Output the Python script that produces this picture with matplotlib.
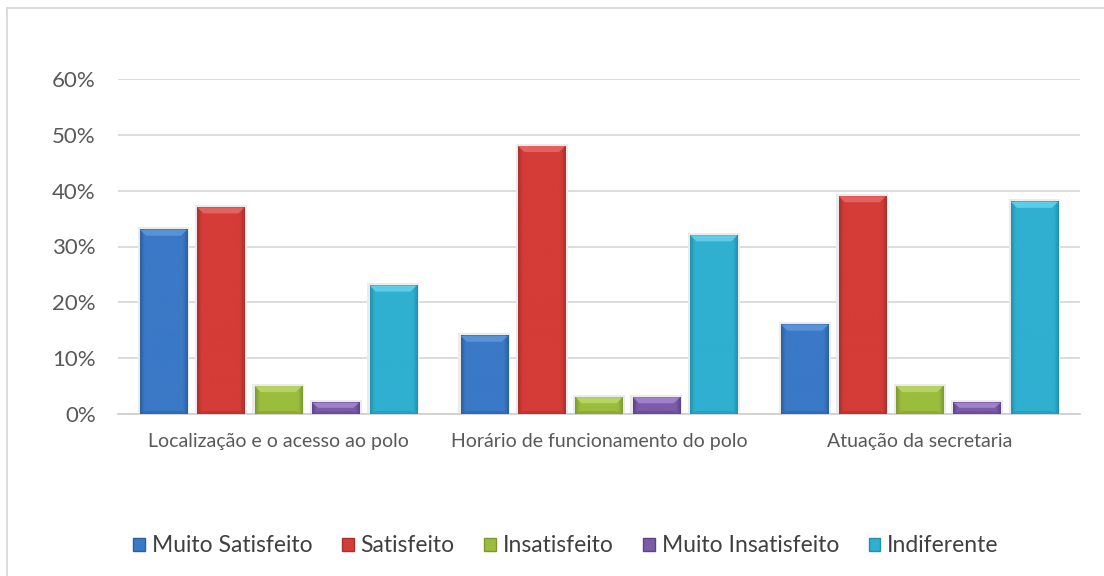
import numpy as np
import matplotlib
matplotlib.use("Agg")
import matplotlib.pyplot as plt
from matplotlib.colors import LinearSegmentedColormap
from matplotlib.patches import Polygon, Rectangle
from matplotlib.lines import Line2D

categories = ["Localização e o acesso ao polo",
              "Horário de funcionamento do polo",
              "Atuação da secretaria"]
series = ["Muito Satisfeito", "Satisfeito", "Insatisfeito",
          "Muito Insatisfeito", "Indiferente"]
muito_satisfeito = [0.33, 0.14, 0.16]
satisfeito = [0.37, 0.48, 0.39]
insatisfeito = [0.05, 0.03, 0.05]
muito_insatisfeito = [0.02, 0.03, 0.02]
indiferente = [0.23, 0.32, 0.38]
yticks = [0.0, 0.1, 0.2, 0.3, 0.4, 0.5, 0.6]

values = [muito_satisfeito, satisfeito, insatisfeito, muito_insatisfeito, indiferente]
# (dark edge, body, light highlight)
palette = [("#2d5f9e", "#3a79c6", "#5e98dc"),
           ("#a8302c", "#d43c38", "#e86864"),
           ("#7d9832", "#9bbd3d", "#bcd86c"),
           ("#5c4385", "#7c5ca8", "#a587d2"),
           ("#2290ac", "#30b0d0", "#66d2ec")]

plt.rcParams["font.family"] = ["Lato", "DejaVu Sans"]
fig = plt.figure(figsize=(11.04, 5.76), dpi=100)
ax = fig.add_axes([118 / 1104, 162 / 576, (1080 - 118) / 1104, (414 - 79) / 576])

n = len(series)
x = np.arange(len(categories))
step = 0.179
width = 0.147
ymax = 0.6
px_y = ymax / 335.0

for i, (vals, (dark, body, light)) in enumerate(zip(values, palette)):
    bars = ax.bar(x + (i - (n - 1) / 2) * step, vals, width, color=body,
                  edgecolor="none", zorder=3)
    cmap = LinearSegmentedColormap.from_list(
        "bev%d" % i, [(0.0, dark), (0.1, body), (0.35, body), (0.5, body),
                      (0.9, body), (1.0, dark)])
    for b in bars:
        x0, w, h = b.get_x(), b.get_width(), b.get_height()
        # soft shadow around the bar
        ax.add_patch(Rectangle((x0 - w * 0.05, 0), w * 1.10, h + 2.5 * px_y,
                               facecolor="#ebebeb", edgecolor="none", zorder=2))
        grad = np.linspace(0, 1, 200).reshape(1, -1)
        ax.imshow(grad, cmap=cmap, extent=(x0, x0 + w, 0, h), aspect="auto",
                  zorder=4, interpolation="bicubic")
        # bevelled top
        cap = min(6 * px_y, h * 0.45)
        inset = w * 0.13
        ax.add_patch(Polygon([(x0, h), (x0 + w, h), (x0 + w - inset, h - cap),
                              (x0 + inset, h - cap)], closed=True,
                             facecolor=light, edgecolor="none", alpha=0.85, zorder=5))
        # bevelled foot
        ax.add_patch(Polygon([(x0, 0), (x0 + w, 0), (x0 + w - inset, cap * 0.5),
                              (x0 + inset, cap * 0.5)], closed=True,
                             facecolor=dark, edgecolor="none", alpha=0.5, zorder=5))

ax.set_xlim(-0.5, len(categories) - 0.5)
ax.set_ylim(0, ymax)
ax.set_yticks(yticks)
ax.set_yticklabels(["%d%%" % round(t * 100) for t in yticks])
ax.set_xticks(x)
ax.set_xticklabels(categories)
ax.tick_params(axis="both", length=0, colors="#595959")
ax.tick_params(axis="y", pad=16, labelsize=16)
ax.tick_params(axis="x", pad=14, labelsize=14)
ax.yaxis.grid(True, color="#d9d9d9", linewidth=1.3, zorder=0)
ax.set_axisbelow(True)
for s in ["top", "right", "left"]:
    ax.spines[s].set_visible(False)
ax.spines["bottom"].set_color("#d0d0d0")
ax.spines["bottom"].set_linewidth(1.3)

handles = [Rectangle((0, 0), 1, 1, facecolor=c[1], edgecolor=c[0]) for c in palette]
leg = fig.legend(handles, series, loc="center", bbox_to_anchor=(566 / 1104, 1 - 546 / 576),
                 ncol=5, frameon=False, fontsize=16.5, handlelength=0.5,
                 handleheight=0.5, handletextpad=0.3, columnspacing=1.3)
for t in leg.get_texts():
    t.set_color("#404040")

# chart frame (left and top edges)
fig.add_artist(Line2D([7 / 1104, 7 / 1104], [0, 1 - 8 / 576], color="#d9d9d9",
                      linewidth=1.3, transform=fig.transFigure))
fig.add_artist(Line2D([7 / 1104, 1], [1 - 8 / 576, 1 - 8 / 576], color="#d9d9d9",
                      linewidth=1.3, transform=fig.transFigure))

fig.savefig("out.png", dpi=100, facecolor="white")
